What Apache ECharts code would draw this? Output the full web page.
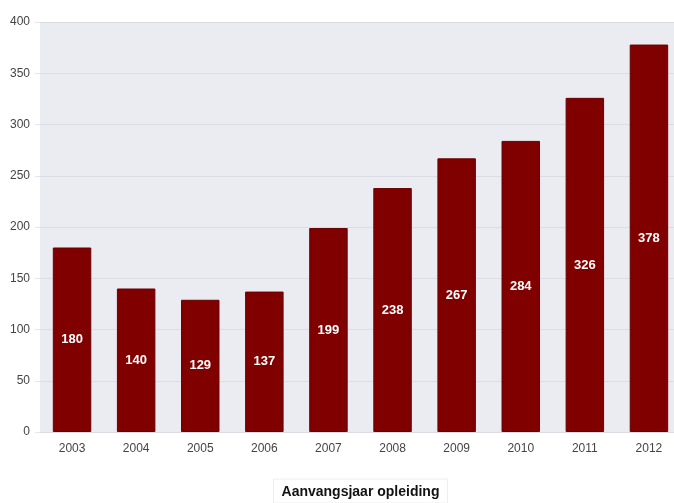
<!DOCTYPE html>
<html>
<head>
<meta charset="utf-8">
<script src="https://cdn.jsdelivr.net/npm/echarts@6/dist/echarts.min.js"></script>
<style>
  html, body { margin: 0; padding: 0; background: #ffffff; }
  #chart { width: 674px; height: 503px; }
</style>
</head>
<body>
<div id="chart"></div>
<script>
const years = ['2003', '2004', '2005', '2006', '2007', '2008', '2009', '2010', '2011', '2012']
const counts = [180, 140, 129, 137, 199, 238, 267, 284, 326, 378]
const axisTitle = 'Aanvangsjaar opleiding'

const chart = echarts.init(document.getElementById('chart'))
chart.setOption({
  backgroundColor: '#ffffff',
  animation: false,
  grid: {
    left: 40, right: -7, top: 22, bottom: 71,
    outerBoundsMode: 'none', containLabel: false,
    show: true, backgroundColor: '#ebebf2', borderWidth: 0
  },
  xAxis: {
    type: 'category',
    data: years,
    axisLine: { show: false },
    axisTick: { show: false },
    axisLabel: { color: '#444', fontSize: 12, fontFamily: 'Liberation Sans', margin: 11 },
    name: axisTitle,
    nameLocation: 'middle',
    nameGap: 47,
    nameTextStyle: {
      color: '#111', fontSize: 14, fontWeight: 'bold', fontFamily: 'Liberation Sans',
      borderColor: '#eeeeee', borderWidth: 1, padding: [6, 8, 4, 8]
    }
  },
  yAxis: {
    type: 'value',
    min: 0, max: 400, interval: 50,
    axisLine: { show: false },
    axisTick: { show: true, length: 5, lineStyle: { color: '#e4e4ea' } },
    axisLabel: { color: '#444', fontSize: 12, fontFamily: 'Liberation Sans', margin: 10 },
    splitLine: { lineStyle: { color: '#dcdce4', width: 1 } }
  },
  series: [{
    type: 'bar',
    data: counts,
    barWidth: '60%',
    itemStyle: { color: '#800000', borderColor: '#6a0000', borderWidth: 1 },
    label: {
      show: true, position: 'inside', color: '#ffffff',
      fontSize: 13, fontWeight: 'bold', fontFamily: 'Liberation Sans'
    }
  }]
})
</script>
</body>
</html>
